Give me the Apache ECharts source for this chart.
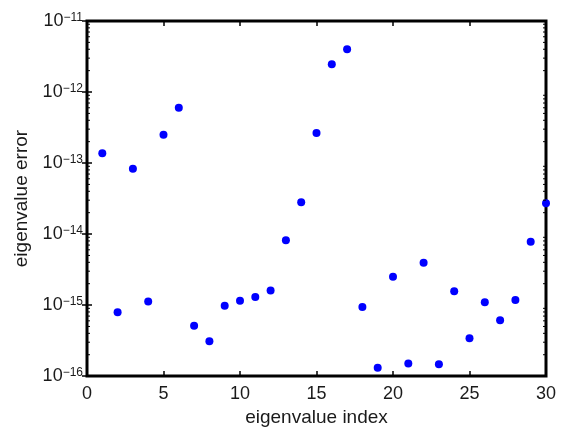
<!DOCTYPE html>
<html>
<head>
<meta charset="utf-8">
<script src="https://cdn.jsdelivr.net/npm/echarts@6/dist/echarts.min.js"></script>
<style>
  html, body { margin: 0; padding: 0; background: #fff; }
  #chart { width: 569px; height: 432px; }
</style>
</head>
<body>
<div id="chart"></div>
<script>
// Eigenvalue index (1..30)
const eigenIndex = [1, 2, 3, 4, 5, 6, 7, 8, 9, 10,
  11, 12, 13, 14, 15, 16, 17, 18, 19, 20,
  21, 22, 23, 24, 25, 26, 27, 28, 29, 30];

// Absolute error of each computed eigenvalue
const eigenError = [
  1.37e-13, 7.9e-16, 8.3e-14, 1.12e-15, 2.5e-13, 6.0e-13, 5.1e-16, 3.1e-16, 9.8e-16, 1.15e-15,
  1.30e-15, 1.6e-15, 8.2e-15, 2.8e-14, 2.65e-13, 2.47e-12, 4.0e-12, 9.4e-16, 1.31e-16, 2.5e-15,
  1.5e-16, 3.95e-15, 1.47e-16, 1.57e-15, 3.4e-16, 1.1e-15, 6.1e-16, 1.18e-15, 7.8e-15, 2.72e-14
];

// Axis ranges and ticks
const xTicks = [0, 5, 10, 15, 20, 25, 30];
const yDecades = [-16, -15, -14, -13, -12, -11];

const FONT = '"Liberation Sans", Arial, Helvetica, sans-serif';
const TEXT = '#1a1a1a';

const chart = echarts.init(document.getElementById('chart'), null, { renderer: 'canvas' });

// "10" with a raised exponent
const yLabelFormatter = function (v) {
  const e = Math.round(Math.log10(v));
  return '{b|10}{e|' + (e < 0 ? '\u2212' : '') + Math.abs(e) + '}';
};

const yRich = {
  b: { fontSize: 18, fontFamily: FONT, color: TEXT, lineHeight: 18,
       verticalAlign: 'middle', padding: [6, 0, 6, 0] },
  e: { fontSize: 12, fontFamily: FONT, color: TEXT, lineHeight: 12,
       verticalAlign: 'top' }
};

const tickStyle = { show: true, inside: true, length: 5, lineStyle: { color: '#000', width: 1.5 } };

const option = {
  animation: false,
  backgroundColor: '#fff',
  grid: {
    left: 87, right: 23, top: 21, bottom: 49,
    show: true, borderColor: '#000', borderWidth: 3, backgroundColor: '#fff'
  },
  xAxis: [
    {
      type: 'value', position: 'bottom',
      min: xTicks[0], max: xTicks[xTicks.length - 1], interval: 5,
      name: 'eigenvalue index', nameLocation: 'middle', nameGap: 29,
      nameTextStyle: { fontSize: 19, fontFamily: FONT, color: TEXT },
      axisLine: { show: false },
      axisTick: tickStyle,
      axisLabel: { margin: 9, fontSize: 18, fontFamily: FONT, color: TEXT },
      splitLine: { show: false }
    },
    {
      type: 'value', position: 'top',
      min: xTicks[0], max: xTicks[xTicks.length - 1], interval: 5,
      axisLine: { show: false },
      axisTick: tickStyle,
      axisLabel: { show: false },
      splitLine: { show: false }
    }
  ],
  yAxis: [
    {
      type: 'log', logBase: 10, position: 'left',
      min: Math.pow(10, yDecades[0]), max: Math.pow(10, yDecades[yDecades.length - 1]),
      interval: 1,
      name: 'eigenvalue error', nameLocation: 'middle', nameGap: 50,
      nameTextStyle: { fontSize: 19, fontFamily: FONT, color: TEXT },
      axisLine: { show: false },
      axisTick: tickStyle,
      axisLabel: { margin: 4, formatter: yLabelFormatter, rich: yRich },
      splitLine: { show: false }
    },
    {
      type: 'log', logBase: 10, position: 'right',
      min: Math.pow(10, yDecades[0]), max: Math.pow(10, yDecades[yDecades.length - 1]),
      interval: 1,
      axisLine: { show: false },
      axisTick: tickStyle,
      axisLabel: { show: false },
      splitLine: { show: false }
    }
  ],
  series: [
    {
      type: 'scatter',
      xAxisIndex: 0, yAxisIndex: 0,
      symbol: 'circle', symbolSize: 8,
      itemStyle: { color: '#0000ff', opacity: 1 },
      data: eigenIndex.map((x, i) => [x, eigenError[i]])
    }
  ]
};

chart.setOption(option);

// Logarithmic minor ticks (2..9 × 10^n) drawn inward on both y-axis sides
function drawMinorTicks() {
  const rect = chart.getModel().getComponent('grid', 0).coordinateSystem.getRect();
  const left = rect.x, right = rect.x + rect.width;
  const len = 3;
  const lines = [];
  for (let d = yDecades[0]; d < yDecades[yDecades.length - 1]; d++) {
    for (let k = 2; k <= 9; k++) {
      const y = chart.convertToPixel({ yAxisIndex: 0 }, k * Math.pow(10, d));
      lines.push({ type: 'line', silent: true, z: 10,
        shape: { x1: left, y1: y, x2: left + len, y2: y },
        style: { stroke: '#000', lineWidth: 1 } });
      lines.push({ type: 'line', silent: true, z: 10,
        shape: { x1: right, y1: y, x2: right - len, y2: y },
        style: { stroke: '#000', lineWidth: 1 } });
    }
  }
  chart.setOption({ graphic: lines });
}
drawMinorTicks();
</script>
</body>
</html>
